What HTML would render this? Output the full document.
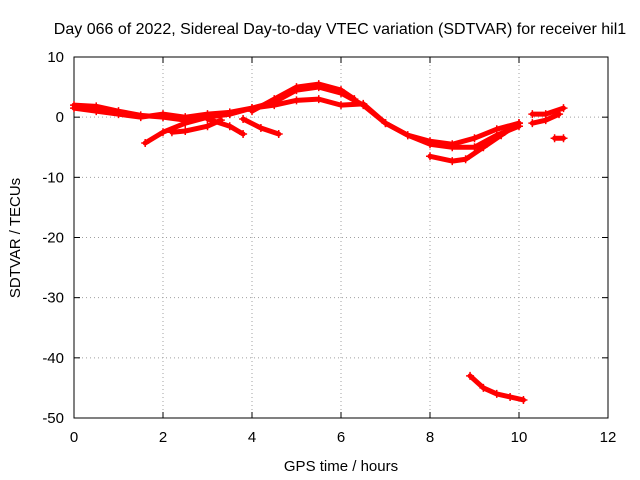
<!DOCTYPE html>
<html><head><meta charset="utf-8"><style>
body{margin:0;background:#fff}
svg{display:block;font-family:"Liberation Sans",sans-serif}
</style></head><body>
<svg id="chart" width="640" height="480" viewBox="0 0 640 480" xmlns="http://www.w3.org/2000/svg">
<rect x="0" y="0" width="640" height="480" fill="#fff"/>
<text x="340" y="34" font-size="16" text-anchor="middle">Day 066 of 2022, Sidereal Day-to-day VTEC variation (SDTVAR) for receiver hil1</text>
<g id="grid"></g>
<g id="axes"></g>
<g id="series"></g>
<text x="341" y="471" font-size="15" text-anchor="middle">GPS time / hours</text>
<text transform="translate(20,238) rotate(-90)" font-size="15" text-anchor="middle">SDTVAR / TECUs</text>
</svg>
<script>
const xTicks=[0,2,4,6,8,10,12];
const yTicks=[10,0,-10,-20,-30,-40,-50];
const track1=[[0,2],[0.5,1.8],[1,1],[1.5,0.3],[2,0],[2.5,-0.5],[3,0],[3.5,0.5]];
const track2=[[0,1.5],[0.5,1],[1,0.5],[1.5,0],[2,0.5],[2.5,0],[3,0.5],[3.5,0.8],[4,1.5],[4.5,2.5],[5,4.5],[5.5,5],[6,4],[6.5,2],[7,-1],[7.5,-3],[8,-4],[8.5,-4.5],[9,-3.5],[9.5,-2],[10,-1]];
const track3=[[1.6,-4.3],[2,-2.5],[2.5,-1],[3,0],[3.5,0.5],[4,1.5],[4.5,2],[5,2.8],[5.5,3],[6,2],[6.5,2.2],[7,-1],[7.5,-3],[8,-4.5],[8.5,-5],[9,-5],[9.5,-3],[10,-1.5]];
const track4=[[2.2,-2.5],[2.5,-2.3],[3,-1.5],[3.3,-0.5]];
const track5=[[3,-0.3],[3.5,-1.5],[3.8,-2.8]];
const track6=[[3.8,-0.3],[4.2,-1.8],[4.6,-2.8]];
const track7=[[4,1],[4.5,3],[5,5],[5.5,5.5],[6,4.5],[6.3,3]];
const track8=[[8,-6.5],[8.5,-7.3],[8.8,-7],[9.2,-5],[9.6,-3],[10,-1]];
const track9=[[10.3,0.5],[10.6,0.5],[11,1.5]];
const track10=[[10.3,-1],[10.6,-0.5],[10.9,0.5]];
const track11=[[10.8,-3.5],[11,-3.5]];
const track12=[[8.9,-43],[9.2,-45],[9.5,-46],[9.8,-46.5],[10.1,-47]];
const tracks=[track1,track2,track3,track4,track5,track6,track7,track8,track9,track10,track11,track12];
const X0=74,X1=608,Y0=57,Y1=418;
const xs=v=>X0+(v-0)/12*(X1-X0);
const ys=v=>Y0+(10-v)/60*(Y1-Y0);
const NS="http://www.w3.org/2000/svg";
function mk(p,t,a){const e=document.createElementNS(NS,t);for(const k in a)e.setAttribute(k,a[k]);p.appendChild(e);return e;}
const grid=document.getElementById('grid'),axes=document.getElementById('axes'),ser=document.getElementById('series');
xTicks.forEach(t=>{const x=xs(t);
 if(t>0&&t<12){const l=mk(grid,'line',{x1:x,y1:Y0,x2:x,y2:Y1,stroke:'#a0a0a0','stroke-dasharray':'1,3'});}
 const tk=mk(axes,'line',{x1:x,y1:Y1,x2:x,y2:Y1-6,stroke:'#000'});
 const tk2=mk(axes,'line',{x1:x,y1:Y0,x2:x,y2:Y0+6,stroke:'#000'});
 const tx=mk(axes,'text',{x:x,y:Y1+24,'font-size':15,'text-anchor':'middle'});tx.textContent=t;});
yTicks.forEach(t=>{const y=ys(t);
 if(t<10&&t>-50){const l=mk(grid,'line',{x1:X0,y1:y,x2:X1,y2:y,stroke:'#a0a0a0','stroke-dasharray':'1,3'});}
 const tk=mk(axes,'line',{x1:X0,y1:y,x2:X0+6,y2:y,stroke:'#000'});
 const tk2=mk(axes,'line',{x1:X1,y1:y,x2:X1-6,y2:y,stroke:'#000'});
 const tx=mk(axes,'text',{x:X0-10,y:y+5,'font-size':15,'text-anchor':'end'});tx.textContent=t;});
const fr=mk(axes,'rect',{x:X0,y:Y0,width:X1-X0,height:Y1-Y0,fill:'none',stroke:'#000'});


tracks.forEach((tr,i)=>{
 const pl=mk(ser,'polyline',{points:tr.map(p=>xs(p[0])+','+ys(p[1])).join(' '),fill:'none',stroke:'#f00','stroke-width':5,'stroke-linejoin':'round','stroke-linecap':'round'});
 
 
 tr.forEach(p=>{const x=xs(p[0]),y=ys(p[1]);
  const m=mk(ser,'path',{d:`M${x-4},${y}H${x+4}M${x},${y-4}V${y+4}`,stroke:'#f00','stroke-width':1.5});
  
  });
});
</script>
</body></html>
